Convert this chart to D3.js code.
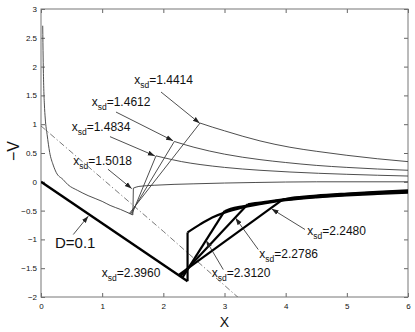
<!DOCTYPE html>
<html><head><meta charset="utf-8">
<script src="https://cdn.jsdelivr.net/npm/d3@7"></script>
<style>body{margin:0;background:#fff}svg{display:block}</style>
</head><body><svg id="c" width="415" height="332"></svg>
<script>
// ---------- data ----------
const xTicks = [0, 1, 2, 3, 4, 5, 6];
const xTickLabels = ["0", "1", "2", "3", "4", "5", "6"];
const yTicks = [-2, -1.5, -1, -0.5, 0, 0.5, 1, 1.5, 2, 2.5, 3];
const yTickLabels = ["−2", "−1.5", "−1", "−0.5", "0", "0.5", "1", "1.5", "2", "2.5", "3"];

// thin family: decaying curve up to the jump points
const decayCurve = [[0.028,2.71],[0.035,2.15],[0.044,1.67],[0.055,1.35],[0.07,1.09],[0.1,0.82],[0.142,0.51],[0.2,0.29],[0.25,0.16],[0.36,0.04],[0.44,-0.05],[0.6,-0.15],[0.77,-0.24],[1.0,-0.34],[1.13,-0.41],[1.3,-0.48],[1.45,-0.55],[1.5018,-0.575]];
// dash-dot reference line
const dashDot = [[0,0.97],[2.0,-0.86],[3.3,-2.08]];

const thinXsd   = [1.4414, 1.4612, 1.4834, 1.5018];
const thinStartV = [-0.555, -0.562, -0.57, -0.575];
const thinRelax = [
  [[2.60,1.02],[2.8,0.95],[3.0,0.885],[3.3,0.79],[3.58,0.71],[4.07,0.60],[4.5,0.53],[5.0,0.46],[5.5,0.40],[6.0,0.35]],
  [[2.18,0.70],[2.5,0.60],[3.0,0.48],[3.58,0.385],[4.0,0.335],[4.5,0.285],[5.0,0.25],[5.5,0.222],[6.0,0.20]],
  [[1.88,0.45],[2.0,0.42],[2.3,0.35],[2.6,0.30],[3.0,0.25],[3.58,0.20],[4.07,0.17],[5.0,0.13],[6.0,0.10]],
  [[1.51,-0.11],[1.6,-0.08],[1.85,-0.06],[2.5,-0.035],[3.5,-0.012],[4.5,0.0],[6.0,0.0]]
];

// thick family (D = 0.1)
const dLine = [[0,0],[2.396,-1.725]];
const thickXsd    = [2.2480, 2.2786, 2.3120, 2.3960];
const thickStartV = [-1.62, -1.64, -1.665, -1.725];
const thickRelax = [
  [[3.95,-0.31],[4.1,-0.28],[4.5,-0.24],[5.0,-0.205],[5.5,-0.175],[6.0,-0.15]],
  [[3.38,-0.39],[3.5,-0.37],[3.7,-0.345],[4.0,-0.30],[4.5,-0.25],[5.0,-0.215],[5.5,-0.185],[6.0,-0.16]],
  [[3.0,-0.51],[3.1,-0.47],[3.3,-0.425],[3.7,-0.355],[4.0,-0.31],[4.5,-0.26],[5.0,-0.225],[5.5,-0.195],[6.0,-0.175]],
  [[2.396,-0.88],[2.6,-0.74],[2.8,-0.62],[3.0,-0.535],[3.3,-0.445],[3.7,-0.365],[4.0,-0.32],[4.5,-0.27],[5.0,-0.235],[5.5,-0.21],[6.0,-0.19]]
];

// annotation texts and placement (data units)
const thinLabels  = ["1.4414", "1.4612", "1.4834", "1.5018"];
const thickLabels = ["2.2480", "2.2786", "2.3120", "2.3960"];
const thinLabelAt  = [[1.525,1.699],[0.829,1.310],[0.502,0.885],[0.528,0.293]];
const thinLeader   = [[[1.962,1.559],[2.595,1.015]],[[1.226,1.211],[2.160,0.712]],[[1.128,0.784],[1.862,0.450]],[[1.095,0.218],[1.483,-0.118]]];
const thickLabelAt = [[4.353,-0.932],[3.569,-1.321],[2.791,-1.652],[0.992,-1.646]];
const thickLeader  = [[[4.316,-0.828],[3.77,-0.47]],[[3.552,-1.176],[3.18,-0.63]],[[2.980,-1.524],[2.70,-1.02]],null];
const dLabel = "D=0.1";
const dLabelAt = [0.229,-1.146];
const dLeader = [[0.528,-0.915],[0.773,-0.596]];

// ---------- layout ----------
const svg = d3.select("#c");
const m = {l:41, r:408, t:9, b:297};
const x = d3.scaleLinear().domain([0,6]).range([m.l, m.r]);
const y = d3.scaleLinear().domain([-2,3]).range([m.b, m.t]);
const FONT = "'Liberation Sans', Arial, Helvetica, sans-serif";

svg.append("defs").append("clipPath").attr("id","clip")
  .append("rect").attr("x",m.l).attr("y",m.t).attr("width",m.r-m.l).attr("height",m.b-m.t);
const defs = svg.select("defs");
defs.append("marker").attr("id","arr").attr("viewBox","0 0 10 10").attr("refX",10).attr("refY",5)
  .attr("markerWidth",7).attr("markerHeight",7).attr("markerUnits","userSpaceOnUse").attr("orient","auto")
  .append("path").attr("d","M0,1.5 L10,5 L0,8.5 Z").attr("fill","#222");

// axes (inward ticks, all four sides)
const axG = svg.append("g");
const axL = d3.axisLeft(y).tickValues(yTicks).tickSize(-4).tickPadding(4).tickFormat((d,i)=>yTickLabels[i]);
const axR = d3.axisRight(y).tickValues(yTicks).tickSize(-4).tickFormat("");
const axB = d3.axisBottom(x).tickValues(xTicks).tickSize(-4).tickPadding(6).tickFormat((d,i)=>xTickLabels[i]);
const axT = d3.axisTop(x).tickValues(xTicks).tickSize(-4).tickFormat("");
axG.append("g").attr("transform",`translate(${m.l},0)`).call(axL);
axG.append("g").attr("transform",`translate(${m.r},0)`).call(axR);
axG.append("g").attr("transform",`translate(0,${m.b})`).call(axB);
axG.append("g").attr("transform",`translate(0,${m.t})`).call(axT);
axG.selectAll(".domain").remove();
axG.selectAll(".tick line").attr("stroke","#666");
axG.selectAll(".tick text").attr("font-family",FONT).attr("font-size",8).attr("fill","#111");
svg.append("rect").attr("x",m.l).attr("y",m.t).attr("width",m.r-m.l).attr("height",m.b-m.t)
  .attr("fill","none").attr("stroke","#777").attr("stroke-width",1);

const plot = svg.append("g").attr("clip-path","url(#clip)");
const smooth = d3.line().x(d=>x(d[0])).y(d=>y(d[1])).curve(d3.curveMonotoneX);
const straight = d3.line().x(d=>x(d[0])).y(d=>y(d[1]));

// dash-dot
plot.append("path").attr("d",straight(dashDot)).attr("fill","none").attr("stroke","#555")
  .attr("stroke-width",0.8).attr("stroke-dasharray","6,2.5,1.2,2.5");

// thin family
const thinStroke = "#3a3a3a";
plot.append("path").attr("d",smooth(decayCurve)).attr("fill","none").attr("stroke",thinStroke).attr("stroke-width",0.9);
thinXsd.forEach((xs,i)=>{
  plot.append("path").attr("d",straight([[xs,thinStartV[i]], thinRelax[i][0]]))
    .attr("fill","none").attr("stroke",thinStroke).attr("stroke-width",0.9);
  plot.append("path").attr("d",smooth(thinRelax[i])).attr("fill","none").attr("stroke",thinStroke).attr("stroke-width",0.9);
});

// thick family
plot.append("path").attr("d",straight(dLine)).attr("fill","none").attr("stroke","#000").attr("stroke-width",2.4);
thickXsd.forEach((xs,i)=>{
  plot.append("path").attr("d",straight([[xs,thickStartV[i]], thickRelax[i][0]]))
    .attr("fill","none").attr("stroke","#000").attr("stroke-width",2.2).attr("stroke-linejoin","round");
  plot.append("path").attr("d",smooth(thickRelax[i])).attr("fill","none").attr("stroke","#000").attr("stroke-width",2.2);
});

// annotations
const ann = svg.append("g").attr("font-family",FONT).attr("fill","#111");
function xsdLabel(pos, val){
  const t = ann.append("text").attr("x",x(pos[0])).attr("y",y(pos[1])).attr("font-size",12);
  t.append("tspan").text("x");
  t.append("tspan").attr("font-size",8.5).attr("dy",4).text("sd");
  t.append("tspan").attr("dy",-4).text("=" + val);
}
function leader(seg){
  ann.append("line").attr("x1",x(seg[0][0])).attr("y1",y(seg[0][1]))
    .attr("x2",x(seg[1][0])).attr("y2",y(seg[1][1]))
    .attr("stroke","#222").attr("stroke-width",0.8).attr("marker-end","url(#arr)");
}
thinLabels.forEach((v,i)=>{ xsdLabel(thinLabelAt[i], v); leader(thinLeader[i]); });
thickLabels.forEach((v,i)=>{ xsdLabel(thickLabelAt[i], v); if (thickLeader[i]) leader(thickLeader[i]); });
ann.append("text").attr("x",x(dLabelAt[0])).attr("y",y(dLabelAt[1])).attr("font-size",15).text(dLabel);
leader(dLeader);

// axis titles
svg.append("text").attr("transform",`translate(19,151) rotate(-90)`).attr("text-anchor","middle")
  .attr("font-family",FONT).attr("font-size",16).attr("fill","#111").text("−V");
svg.append("text").attr("x",x(3)).attr("y",327).attr("text-anchor","middle")
  .attr("font-family",FONT).attr("font-size",14).attr("fill","#111").text("X");
</script></body></html>
